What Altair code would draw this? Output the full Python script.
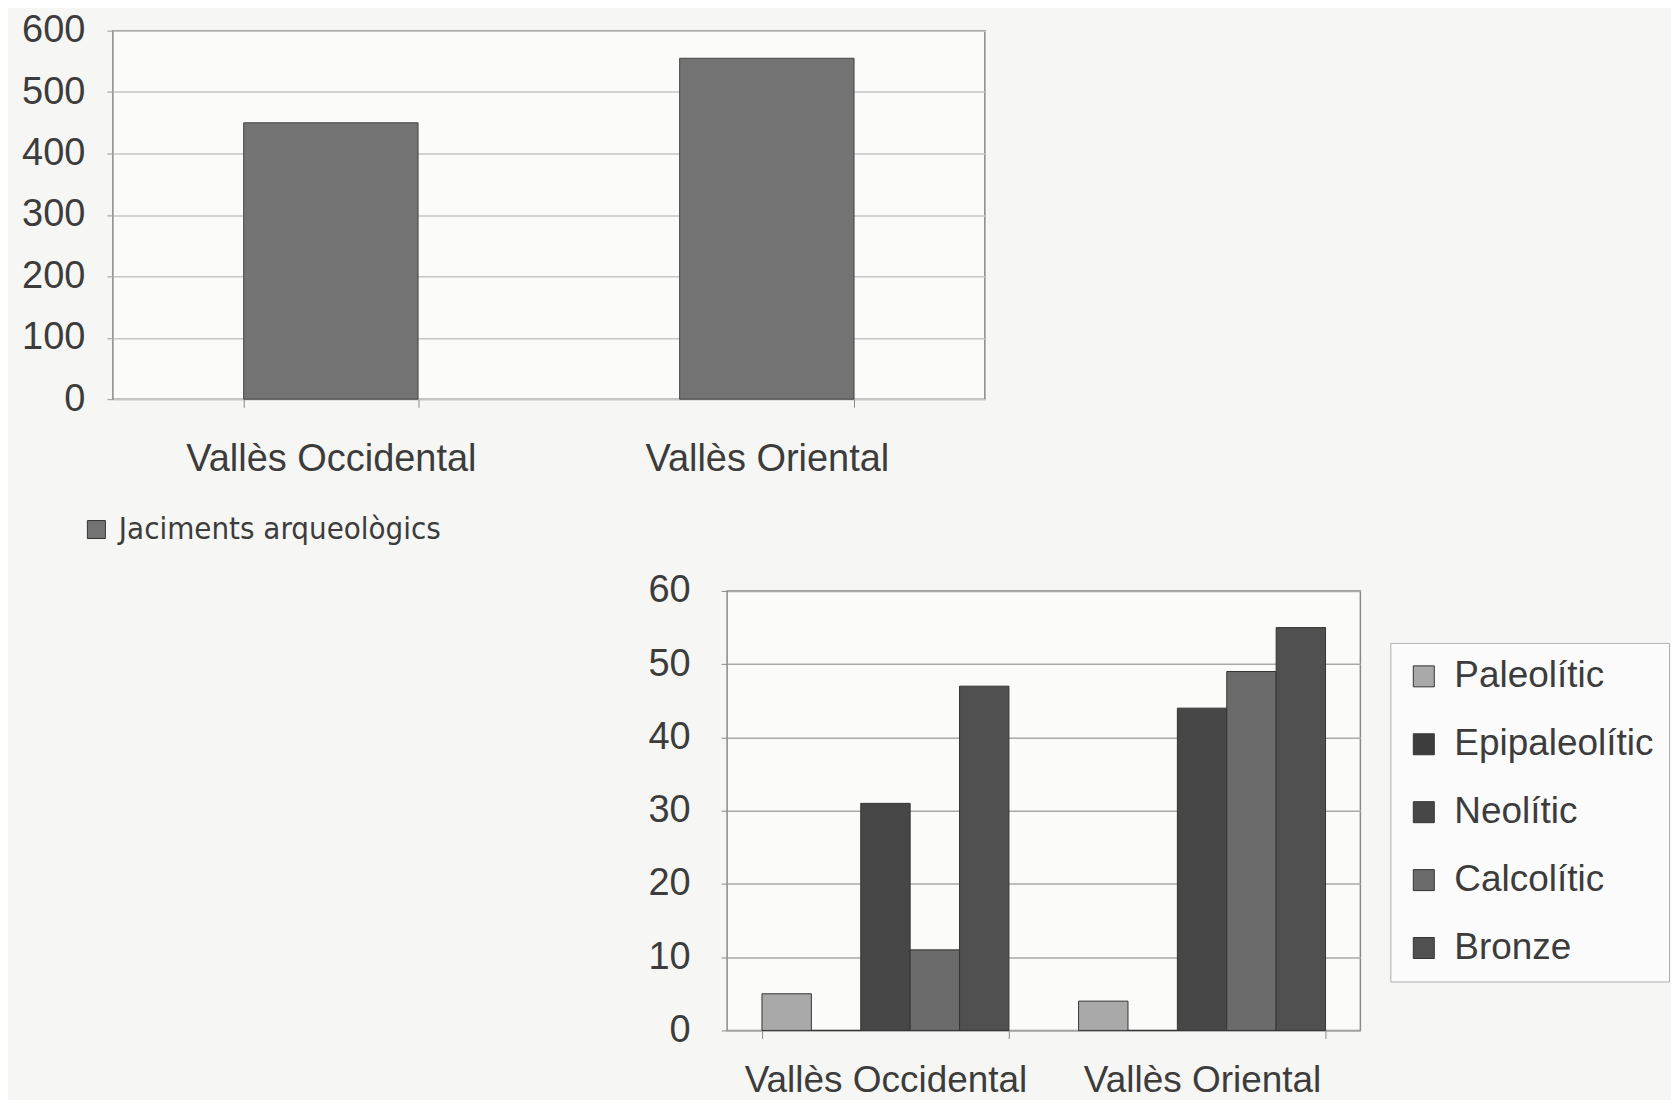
import altair as alt
import pandas as pd

regions = ["Vallès Occidental", "Vallès Oriental"]
jaciments = [450, 555]
serie_name = "Jaciments arqueològics"
periods = ["Paleolític", "Epipaleolític", "Neolític", "Calcolític", "Bronze"]
occidental = [5, 0, 31, 11, 47]
oriental = [4, 0, 44, 49, 55]
period_colors = ["#a9a9a9", "#3d3d3d", "#474747", "#6b6b6b", "#505050"]
top_ticks = [0, 100, 200, 300, 400, 500, 600]
bottom_ticks = [0, 10, 20, 30, 40, 50, 60]

FONT = "Liberation Sans"
NARROW = "Liberation Sans Narrow, DejaVu Sans Condensed, sans-serif"
TXT = "#3c3c3c"

top_df = pd.DataFrame({"region": regions, "value": jaciments, "serie": [serie_name] * len(regions)})
rows = []
for reg, vals in zip(regions, [occidental, oriental]):
    for p, v in zip(periods, vals):
        rows.append({"region": reg, "period": p, "value": v})
bot_df = pd.DataFrame(rows)

top = alt.Chart(top_df).mark_bar(stroke="#454545", strokeWidth=1).encode(
    x=alt.X("region:N", sort=regions,
            scale=alt.Scale(paddingInner=0.6, paddingOuter=0.3),
            axis=alt.Axis(title=None, labelAngle=0, labelFontSize=38, labelPadding=33,
                          tickBand="extent", tickSize=8, tickColor="#8a8a8a",
                          domain=False, grid=False, labelColor=TXT, labelFont=FONT,
                          labelLimit=600)),
    y=alt.Y("value:Q", scale=alt.Scale(domain=[0, 600], nice=False),
            axis=alt.Axis(title=None, values=top_ticks, tickSize=6, labelPadding=22,
                          domain=False, gridColor="#c6c6c6", gridWidth=1.5,
                          tickColor="#9a9a9a", labelFontSize=38, labelColor=TXT,
                          labelFont=FONT)),
    color=alt.Color("serie:N", scale=alt.Scale(domain=[serie_name], range=["#737373"]),
                    legend=alt.Legend(title=None, orient="none", legendX=-32, legendY=484,
                                      labelFontSize=31, labelFont=NARROW, labelColor=TXT,
                                      symbolType="square", symbolSize=324,
                                      symbolStrokeColor="#333333", symbolStrokeWidth=1,
                                      labelOffset=7, padding=0, labelLimit=600)),
).properties(width=873, height=369,
             view=alt.ViewBackground(fill="#fbfbfa", stroke="#8a8a8a", strokeWidth=1.5))

bottom = alt.Chart(bot_df).mark_bar(stroke="#333333", strokeWidth=1).encode(
    x=alt.X("region:N", sort=regions,
            scale=alt.Scale(paddingInner=0.22, paddingOuter=0.11),
            axis=alt.Axis(title=None, labelAngle=0, labelFontSize=37, labelPadding=24,
                          tickBand="extent", tickSize=8, tickColor="#8a8a8a",
                          domain=False, grid=False, labelColor=TXT, labelFont=FONT,
                          labelLimit=600)),
    xOffset=alt.XOffset("period:N", sort=periods,
                        scale=alt.Scale(domain=periods, paddingInner=0, paddingOuter=0)),
    y=alt.Y("value:Q", scale=alt.Scale(domain=[0, 60], nice=False),
            axis=alt.Axis(title=None, values=bottom_ticks, tickSize=6, labelPadding=31,
                          domain=False, gridColor="#a9a9a9", gridWidth=1.5,
                          tickColor="#8a8a8a", labelFontSize=38, labelColor=TXT,
                          labelFont=FONT)),
    color=alt.Color("period:N", sort=periods,
                    scale=alt.Scale(domain=periods, range=period_colors),
                    legend=alt.Legend(title=None, orient="none", legendX=664, legendY=52,
                                      labelFontSize=37, labelFont=FONT, labelColor=TXT,
                                      symbolType="square", symbolSize=441,
                                      symbolStrokeColor="#333333", symbolStrokeWidth=1,
                                      rowPadding=30, labelOffset=12, padding=15,
                                      strokeColor="#b0b0b0", fillColor="#fbfbfb",
                                      labelLimit=600)),
).properties(width=634, height=440,
             view=alt.ViewBackground(fill="#fbfbfa", stroke="#8a8a8a", strokeWidth=1.5))

spacer = alt.Chart(pd.DataFrame({"a": [0]})).mark_point(opacity=0).properties(
    width=533, height=1,
    view=alt.ViewBackground(fill="transparent", stroke="transparent"))

row = alt.hconcat(spacer, bottom, spacing=0).resolve_scale(color="independent")

chart = alt.vconcat(top, row, spacing=25).resolve_scale(color="independent").properties(
    padding={"left": 12, "top": 2, "right": 0, "bottom": 0},
    background="#f6f6f4",
).configure(font=FONT)

chart.save("out.html", embed_options={"renderer": "svg", "actions": False})
